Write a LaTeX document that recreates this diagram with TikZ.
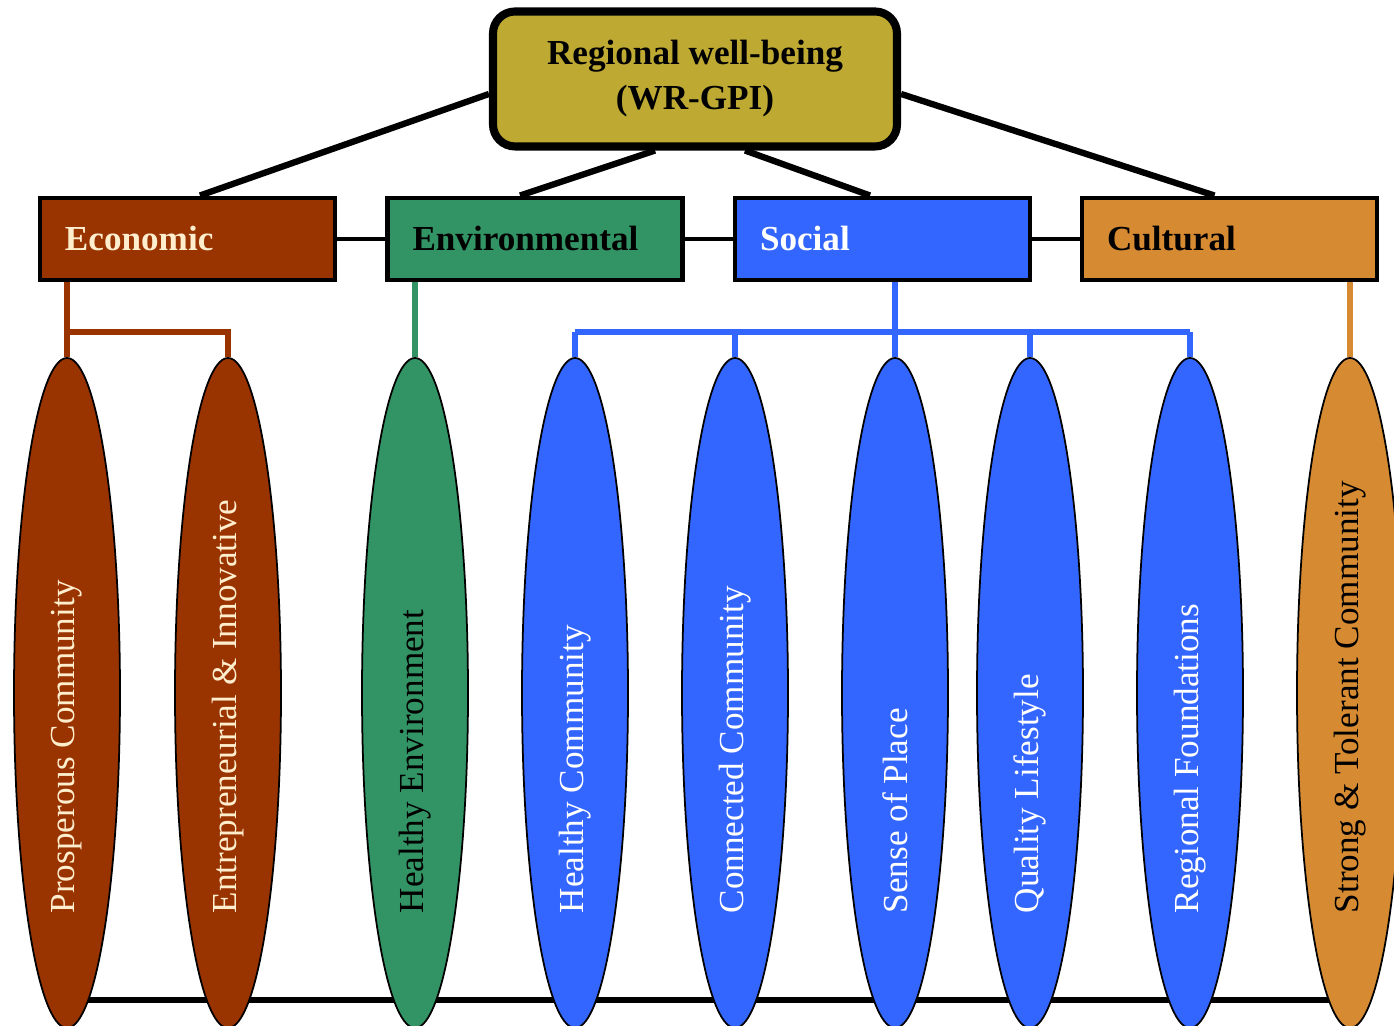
\documentclass[tikz,border=0pt]{standalone}
\usepackage{fontspec}
\setmainfont{Liberation Serif}
\usetikzlibrary{shapes.geometric,backgrounds}
\definecolor{colgpi}{RGB}{190,170,50}
\definecolor{coleco}{RGB}{153,51,0}
\definecolor{colenv}{RGB}{50,148,100}
\definecolor{colsoc}{RGB}{51,102,255}
\definecolor{colcul}{RGB}{214,138,50}
\definecolor{colcreme}{RGB}{255,238,205}

\begin{document}
\begin{tikzpicture}[
		catbox/.style={draw=black, line width=1.4pt, minimum height=0.82cm, text width=2.45cm, inner xsep=0.25cm, align=left, font=\bfseries},
		pilier/.style={ellipse, draw=black, line width=0.5pt, minimum width=1.06cm, minimum height=6.7cm, inner sep=0pt},
		etiq/.style={rotate=90, anchor=west, inner sep=0pt},
		trait/.style={line width=1.8pt},
		lien/.style={line width=1.4pt},
		branche/.style={line width=1.7pt}
	]
			
			\useasboundingbox (0,0) rectangle (13.94,10.26);
			
			% Bloc du haut
			\node[draw=black, line width=2.3pt, rounded corners=0.22cm, fill=colgpi, minimum width=4.04cm, minimum height=1.35cm, align=center, font=\fontsize{10}{12.8}\selectfont\bfseries] (wr) at (6.95,9.47) {Regional well-being\\(WR-GPI)};
			
			% Les quatre dimensions
			\node[catbox, fill=coleco, text=colcreme] (eco) at (1.875,7.87) {Economic};
			\node[catbox, fill=colenv, text=black] (env) at (5.35,7.87) {Environmental};
			\node[catbox, fill=colsoc, text=white] (soc) at (8.825,7.87) {Social};
			\node[catbox, fill=colcul, text=black] (cul) at (12.295,7.87) {Cultural};
			
			% Les piliers (ellipses)
			\node[pilier, fill=coleco] (pc) at (0.67,3.33) {};
			\node[pilier, fill=coleco] (ei) at (2.28,3.33) {};
			\node[pilier, fill=colenv] (he) at (4.15,3.33) {};
			\node[pilier, fill=colsoc] (hc) at (5.75,3.33) {};
			\node[pilier, fill=colsoc] (cc) at (7.35,3.33) {};
			\node[pilier, fill=colsoc] (sp) at (8.95,3.33) {};
			\node[pilier, fill=colsoc] (ql) at (10.30,3.33) {};
			\node[pilier, fill=colsoc] (rf) at (11.90,3.33) {};
			\node[pilier, fill=colcul] (st) at (13.50,3.33) {};
			
			% Textes dans les piliers
			\node[etiq, text=colcreme] (tpc) at (0.67,1.12) {Prosperous Community};
			\node[etiq, text=colcreme] (tei) at (2.28,1.12) {Entrepreneurial \& Innovative};
			\node[etiq, text=black] (the) at (4.15,1.12) {Healthy Environment};
			\node[etiq, text=white] (thc) at (5.75,1.12) {Healthy Community};
			\node[etiq, text=white] (tcc) at (7.35,1.12) {Connected Community};
			\node[etiq, text=white] (tsp) at (8.95,1.12) {Sense of Place};
			\node[etiq, text=white] (tql) at (10.30,1.12) {Quality Lifestyle};
			\node[etiq, text=white] (trf) at (11.90,1.12) {Regional Foundations};
			\node[etiq, text=black] (tst) at (13.50,1.12) {Strong \& Tolerant Community};
			
			% Trait noir du bas, derriere les piliers
			\begin{pgfonlayer}{background}
				\coordinate (bas) at (0,0.26);
				\draw[trait] (pc.center |- bas) -- (st.center |- bas);
			\end{pgfonlayer}
			
			% Liens du bloc du haut vers les dimensions
			\draw[trait] ([yshift=-0.15cm]wr.west) -- ([xshift=0.125cm]eco.north);
			\draw[trait] ([xshift=-0.4cm]wr.south) -- ([xshift=-0.15cm]env.north);
			\draw[trait] ([xshift=0.5cm]wr.south) -- ([xshift=-0.125cm]soc.north);
			\draw[trait] ([yshift=-0.15cm]wr.east) -- ([xshift=-0.15cm]cul.north);
			
			% Liens entre les dimensions
			\draw[lien] (eco) -- (env);
			\draw[lien] (env) -- (soc);
			\draw[lien] (soc) -- (cul);
			
			% Liens vers les piliers
			\coordinate (bus) at (0,6.94);
			\draw[branche, coleco] (eco.south -| pc.north) -- (pc.north);
			\draw[branche, coleco] (pc.north |- bus) -| (ei.north);
			\draw[branche, colenv] (env.south -| he.north) -- (he.north);
			\draw[branche, colsoc] (soc.south -| sp.north) -- (sp.north);
			\draw[branche, colsoc] (hc.north |- bus) -- (rf.north |- bus);
			\draw[branche, colsoc] (hc.north |- bus) -- (hc.north);
			\draw[branche, colsoc] (cc.north |- bus) -- (cc.north);
			\draw[branche, colsoc] (ql.north |- bus) -- (ql.north);
			\draw[branche, colsoc] (rf.north |- bus) -- (rf.north);
			\draw[branche, colcul] (cul.south -| st.north) -- (st.north);
			
		\end{tikzpicture}
\end{document}
